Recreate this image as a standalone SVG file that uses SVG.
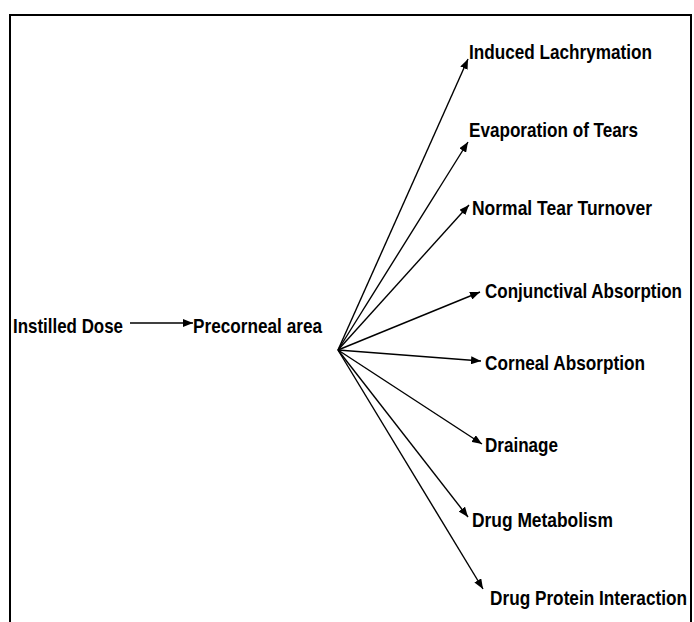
<svg xmlns="http://www.w3.org/2000/svg" width="694" height="622" viewBox="0 0 694 622">
<defs>
<marker id="ah" viewBox="0 0 10 8" refX="10" refY="4" markerWidth="10" markerHeight="8" markerUnits="userSpaceOnUse" orient="auto">
<path d="M0,0 L10,4 L0,8 z" fill="#000"/>
</marker>
</defs>
<style>
.t{font-family:"Liberation Sans",Arial,sans-serif;font-weight:bold;font-size:21px;fill:#000}
.c line{stroke:#000;stroke-width:1.4;marker-end:url(#ah)}
</style>
<rect width="694" height="622" fill="#fff"/>
<path d="M10,622 V15 H691 V622" fill="none" stroke="#000" stroke-width="2"/>
<g class="c" id="connectors">
<line x1="130" y1="323" x2="193" y2="323"/>
<line x1="338" y1="350" x2="468" y2="59"/>
<line x1="338" y1="350" x2="468" y2="142"/>
<line x1="338" y1="350" x2="469" y2="205"/>
<line x1="338" y1="350" x2="480" y2="292"/>
<line x1="338" y1="350" x2="481" y2="361"/>
<line x1="338" y1="350" x2="482" y2="444"/>
<line x1="338" y1="350" x2="468" y2="517"/>
<line x1="338" y1="350" x2="483" y2="589"/>
</g>
<g id="n-instilled"><text class="t" x="13" y="333" textLength="110" lengthAdjust="spacingAndGlyphs">Instilled Dose</text></g>
<g id="n-precorneal"><text class="t" x="193" y="333" textLength="129" lengthAdjust="spacingAndGlyphs">Precorneal area</text></g>
<g id="n-lachrymation"><text class="t" x="469" y="59" textLength="183" lengthAdjust="spacingAndGlyphs">Induced Lachrymation</text></g>
<g id="n-evaporation"><text class="t" x="469" y="137" textLength="169" lengthAdjust="spacingAndGlyphs">Evaporation of Tears</text></g>
<g id="n-turnover"><text class="t" x="472" y="215" textLength="180" lengthAdjust="spacingAndGlyphs">Normal Tear Turnover</text></g>
<g id="n-conjunctival"><text class="t" x="485" y="298" textLength="197" lengthAdjust="spacingAndGlyphs">Conjunctival Absorption</text></g>
<g id="n-corneal"><text class="t" x="485" y="370" textLength="160" lengthAdjust="spacingAndGlyphs">Corneal Absorption</text></g>
<g id="n-drainage"><text class="t" x="485" y="452" textLength="73" lengthAdjust="spacingAndGlyphs">Drainage</text></g>
<g id="n-metabolism"><text class="t" x="472" y="527" textLength="141" lengthAdjust="spacingAndGlyphs">Drug Metabolism</text></g>
<g id="n-protein"><text class="t" x="490" y="605" textLength="197" lengthAdjust="spacingAndGlyphs">Drug Protein Interaction</text></g>
</svg>
